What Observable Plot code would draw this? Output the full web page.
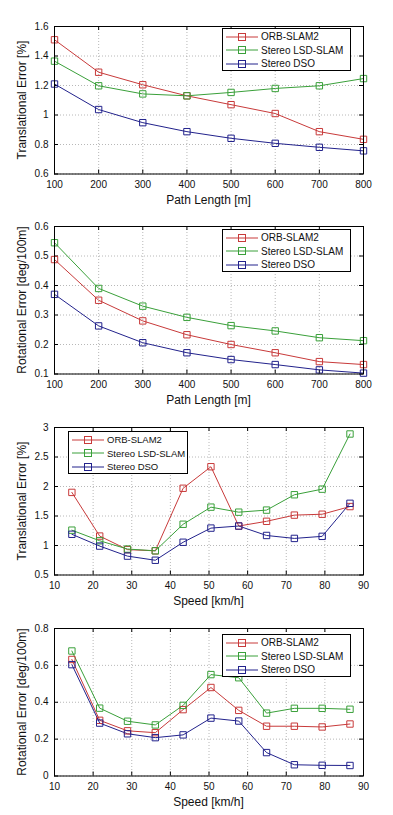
<!DOCTYPE html>
<html>
<head>
<meta charset="utf-8">
<script src="https://cdn.jsdelivr.net/npm/d3@7"></script>
<script src="https://cdn.jsdelivr.net/npm/@observablehq/plot@0.6"></script>
<style>
  html, body { margin: 0; padding: 0; background: #fff; }
  body { width: 393px; height: 815px; overflow: hidden; font-family: "Liberation Sans", Arial, sans-serif; }
  .panel { position: relative; width: 393px; }
  .panel svg { overflow: visible; display: block; }
  .legend { position: absolute; background: #fff; border: 1px solid #000; box-sizing: border-box; padding: 1px 3px 0 3px; }
  .legend .row { display: flex; align-items: center; height: 13.5px; font-size: 10px; color: #111; white-space: nowrap; }
  .legend svg { overflow: visible; margin-right: 3px; }
  .xlab, .ylab { position: absolute; font-size: 12px; line-height: 14px; height: 14px; text-align: center; color: #111; white-space: nowrap; font-weight: normal; }
  .ylab { transform: rotate(-90deg); transform-origin: 50% 50%; }
</style>
</head>
<body>
<div id="chart"></div>
<script>
// ---- data ----
const seriesNames = ["ORB-SLAM2", "Stereo LSD-SLAM", "Stereo DSO"];
const seriesColors = ["#c83a3a", "#3aa03a", "#22228c"];

const pathLength = [100, 200, 300, 400, 500, 600, 700, 800];
const transPathORB = [1.51, 1.29, 1.205, 1.13, 1.07, 1.01, 0.887, 0.835];
const transPathLSD = [1.365, 1.198, 1.143, 1.13, 1.153, 1.18, 1.198, 1.247];
const transPathDSO = [1.21, 1.037, 0.948, 0.887, 0.842, 0.808, 0.781, 0.757];

const rotPathORB = [0.488, 0.35, 0.28, 0.233, 0.2, 0.172, 0.142, 0.132];
const rotPathLSD = [0.545, 0.39, 0.33, 0.292, 0.264, 0.246, 0.223, 0.213];
const rotPathDSO = [0.37, 0.263, 0.206, 0.172, 0.149, 0.132, 0.114, 0.103];

const speed = [14.5, 21.7, 28.9, 36.1, 43.3, 50.5, 57.7, 64.9, 72.1, 79.3, 86.5];
const transSpeedORB = [1.9, 1.16, 0.93, 0.91, 1.97, 2.335, 1.33, 1.41, 1.515, 1.53, 1.66];
const transSpeedLSD = [1.26, 1.08, 0.94, 0.91, 1.36, 1.65, 1.565, 1.6, 1.86, 1.955, 2.89];
const transSpeedDSO = [1.19, 0.99, 0.82, 0.75, 1.055, 1.295, 1.33, 1.17, 1.12, 1.155, 1.715];

const rotSpeedORB = [0.632, 0.302, 0.245, 0.235, 0.36, 0.48, 0.356, 0.27, 0.27, 0.266, 0.282];
const rotSpeedLSD = [0.678, 0.368, 0.297, 0.277, 0.383, 0.55, 0.533, 0.341, 0.367, 0.367, 0.362];
const rotSpeedDSO = [0.604, 0.287, 0.229, 0.208, 0.223, 0.314, 0.298, 0.127, 0.061, 0.058, 0.057];

const pathTicks = [100, 200, 300, 400, 500, 600, 700, 800];
const speedTicks = [10, 20, 30, 40, 50, 60, 70, 80, 90];
const transPathTicks = [0.6, 0.8, 1, 1.2, 1.4, 1.6];
const rotPathTicks = [0.1, 0.2, 0.3, 0.4, 0.5, 0.6];
const transSpeedTicks = [0.5, 1, 1.5, 2, 2.5, 3];
const rotSpeedTicks = [0, 0.2, 0.4, 0.6, 0.8];

const panels = [
  {x: pathLength, ys: [transPathORB, transPathLSD, transPathDSO], xTicks: pathTicks, yTicks: transPathTicks,
   xLabel: "Path Length [m]", yLabel: "Translational Error [%]", height: 200, legend: {left: 222, top: 28, width: 129, height: 43, font: 10}},
  {x: pathLength, ys: [rotPathORB, rotPathLSD, rotPathDSO], xTicks: pathTicks, yTicks: rotPathTicks,
   xLabel: "Path Length [m]", yLabel: "Rotational Error [deg/100m]", height: 201, legend: {left: 222, top: 29, width: 129, height: 43, font: 10}},
  {x: speed, ys: [transSpeedORB, transSpeedLSD, transSpeedDSO], xTicks: speedTicks, yTicks: transSpeedTicks,
   xLabel: "Speed [km/h]", yLabel: "Translational Error [%]", height: 201, legend: {left: 68, top: 30, width: 120, height: 43, font: 9.5}},
  {x: speed, ys: [rotSpeedORB, rotSpeedLSD, rotSpeedDSO], xTicks: speedTicks, yTicks: rotSpeedTicks,
   xLabel: "Speed [km/h]", yLabel: "Rotational Error [deg/100m]", height: 201, legend: {left: 222, top: 32, width: 129, height: 43, font: 10}}
];

const fmt = d => String(+d.toFixed(3));
const MT = 26, PH = 147.5, ML = 54, MR = 30;

const root = document.getElementById("chart");
panels.forEach(p => {
  const rows = [];
  p.ys.forEach((arr, i) => arr.forEach((v, j) => rows.push({x: p.x[j], y: v, s: seriesNames[i]})));
  const xDomain = [p.xTicks[0], p.xTicks[p.xTicks.length - 1]];
  const yDomain = [p.yTicks[0], p.yTicks[p.yTicks.length - 1]];
  const MB = p.height - MT - PH;
  const plot = Plot.plot({
    width: 393, height: p.height,
    marginLeft: ML, marginRight: MR, marginTop: MT, marginBottom: MB,
    style: {fontFamily: "'Liberation Sans', Arial, sans-serif", fontSize: "10px", color: "#111", overflow: "visible"},
    x: {domain: xDomain},
    y: {domain: yDomain},
    color: {domain: seriesNames, range: seriesColors},
    marks: [
      Plot.gridX(p.xTicks, {stroke: "#888", strokeOpacity: 0.6, strokeDasharray: "1,2"}),
      Plot.gridY(p.yTicks, {stroke: "#888", strokeOpacity: 0.6, strokeDasharray: "1,2"}),
      Plot.tickX(p.xTicks, {x: d => d, insetTop: PH - 4, stroke: "#000"}),
      Plot.tickX(p.xTicks, {x: d => d, insetBottom: PH - 4, stroke: "#000"}),
      Plot.tickY(p.yTicks, {y: d => d, insetRight: 393 - ML - MR - 4, stroke: "#000"}),
      Plot.tickY(p.yTicks, {y: d => d, insetLeft: 393 - ML - MR - 4, stroke: "#000"}),
      Plot.axisX(p.xTicks, {tickSize: 0, tickPadding: 7, tickFormat: fmt, label: null, fontSize: 10}),
      Plot.axisY(p.yTicks, {tickSize: 0, tickPadding: 6, tickFormat: fmt, label: null, fontSize: 10}),
      Plot.line(rows, {x: "x", y: "y", z: "s", stroke: "s", strokeWidth: 1}),
      Plot.dot(rows, {x: "x", y: "y", stroke: "s", symbol: "square", r: 3.6, fill: "none", strokeWidth: 1}),
      Plot.frame({stroke: "#000", strokeWidth: 1})
    ]
  });
  const div = document.createElement("div");
  div.className = "panel";
  div.style.height = p.height + "px";
  div.appendChild(plot);

  const xl = document.createElement("div");
  xl.className = "xlab";
  xl.textContent = p.xLabel;
  Object.assign(xl.style, {left: ML + "px", width: (393 - ML - MR) + "px", top: (MT + PH + 19.5) + "px"});
  div.appendChild(xl);

  const yl = document.createElement("div");
  yl.className = "ylab";
  yl.textContent = p.yLabel;
  Object.assign(yl.style, {left: (22 - PH / 2) + "px", width: PH + "px", top: (MT + PH / 2 - 7) + "px"});
  div.appendChild(yl);

  const lg = document.createElement("div");
  lg.className = "legend";
  Object.assign(lg.style, {left: p.legend.left + "px", top: p.legend.top + "px", width: p.legend.width + "px", height: p.legend.height + "px"});
  seriesNames.forEach((name, i) => {
    const row = document.createElement("div");
    row.className = "row";
    row.style.fontSize = p.legend.font + "px";
    row.innerHTML = `<svg width="32" height="10"><line x1="0" y1="5" x2="32" y2="5" stroke="${seriesColors[i]}" stroke-width="1"/><rect x="12.5" y="1.5" width="7" height="7" fill="none" stroke="${seriesColors[i]}" stroke-width="1"/></svg><span>${name}</span>`;
    lg.appendChild(row);
  });
  div.appendChild(lg);
  root.appendChild(div);
});
</script>
</body>
</html>
